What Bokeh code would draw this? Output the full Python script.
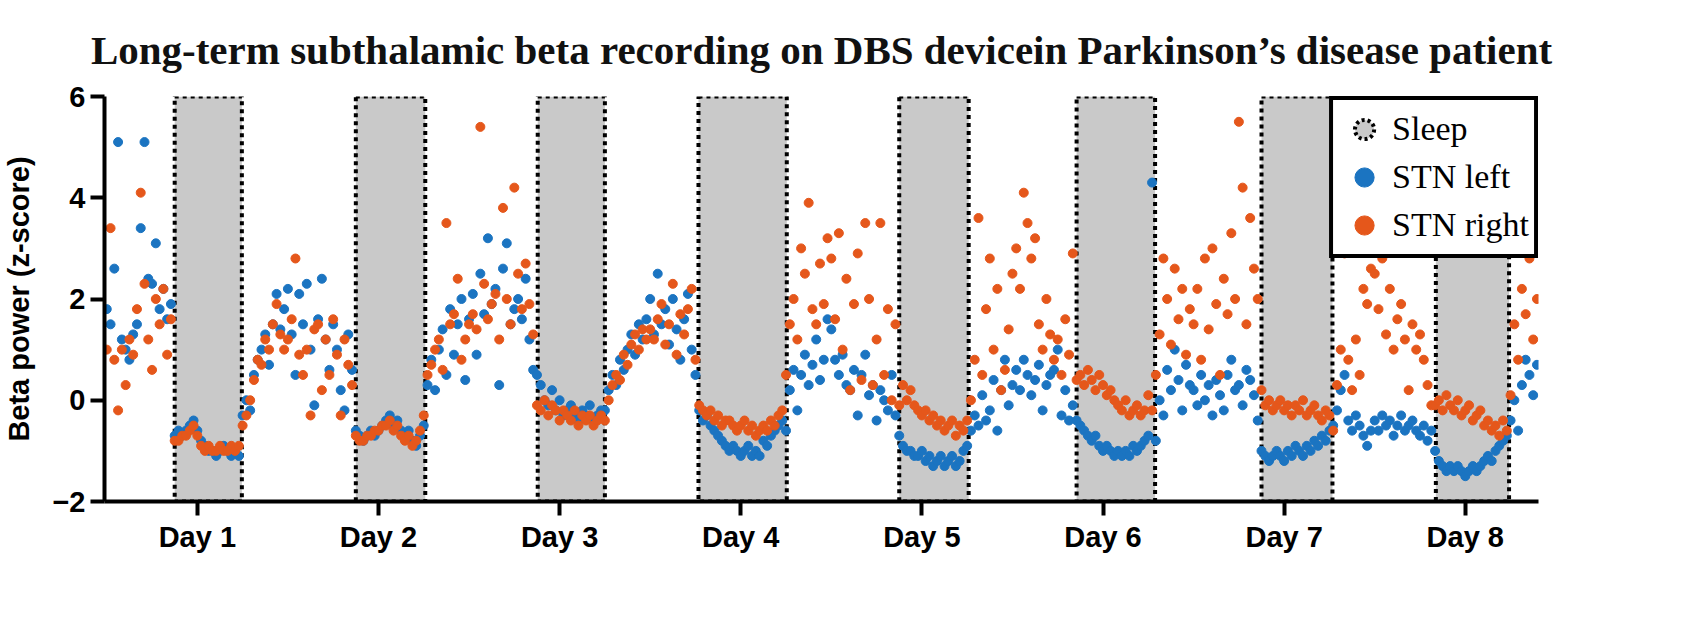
from bokeh.plotting import figure
from bokeh.models import FixedTicker, Legend, LegendItem
from bokeh.embed import file_html
from bokeh.resources import INLINE

start_hour = 12.0
step_hour = 0.5
day_ticks = [24, 48, 72, 96, 120, 144, 168, 192]
day_labels = ["Day 1", "Day 2", "Day 3", "Day 4", "Day 5", "Day 6", "Day 7", "Day 8"]
sleep_start = [21.0, 45.0, 69.1, 90.4, 117.0, 140.5, 165.0, 188.1]
sleep_end = [29.9, 54.2, 78.0, 102.1, 126.2, 150.9, 174.4, 197.8]

stn_left = [
 1.8,1.5,2.6,5.1,1.2,1.0,0.8,1.3,1.5,3.4,5.1,2.4,2.3,3.1,1.8,2.2,1.6,1.9,
 -0.7,-0.6,-0.7,-0.6,-0.5,-0.4,-0.6,-0.8,-0.9,-1.0,-1.0,-1.1,-1.0,-0.9,-1.0,-1.1,-1.0,-1.1,
 -0.3,0.0,-0.2,0.5,0.8,1.0,1.3,0.7,1.5,2.1,1.4,1.8,
 2.2,1.3,0.5,2.1,1.5,2.3,1.0,-0.1,1.6,2.4,1.2,0.6,1.5,1.0,0.2,-0.2,1.3,0.6,
 -0.6,-0.7,-0.8,-0.7,-0.6,-0.7,-0.6,-0.5,-0.4,-0.3,-0.5,-0.4,-0.6,-0.7,-0.6,-0.8,-0.9,-0.7,
 -0.5,0.3,0.8,0.2,1.0,1.4,0.5,1.8,0.9,1.5,2.0,0.4,
 1.6,2.1,0.9,2.5,1.7,3.2,1.9,2.2,0.3,2.6,3.1,1.5,1.8,2.0,1.6,2.4,1.2,0.6,
 0.5,0.3,0.0,-0.1,0.2,-0.2,0.0,-0.3,-0.2,-0.1,-0.3,-0.4,-0.2,-0.3,-0.1,-0.4,-0.3,-0.2,
 -0.2,0.2,0.5,0.3,0.8,0.6,1.0,1.3,0.9,1.5,1.2,1.6,
 2.0,1.3,2.5,1.5,1.8,1.1,2.0,1.4,0.8,1.6,2.1,1.0,0.5,
 -0.2,-0.4,-0.3,-0.5,-0.6,-0.7,-0.8,-0.9,-1.0,-0.9,-1.0,-1.1,-1.0,-0.9,-1.1,-1.0,-1.1,-0.8,-0.9,-0.7,-0.6,-0.5,-0.4,
 -0.6,0.2,0.6,-0.2,0.5,0.9,0.3,0.7,1.2,0.4,0.8,1.6,
 1.4,0.8,0.5,0.9,0.3,0.2,0.6,-0.3,0.5,0.9,0.1,0.3,-0.4,0.2,0.0,-0.2,0.5,-0.3,
 -0.7,-0.9,-1.0,-1.0,-1.1,-1.1,-1.0,-1.2,-1.1,-1.3,-1.2,-1.1,-1.3,-1.2,-1.1,-1.3,-1.2,-1.0,
 -0.9,-0.6,-0.3,-0.5,0.1,-0.4,-0.2,0.4,-0.6,0.2,0.8,-0.1,
 0.3,0.6,0.2,0.8,0.5,0.1,0.4,0.7,-0.2,0.3,0.5,0.6,1.0,-0.3,0.2,-0.4,-0.1,
 -0.4,-0.5,-0.6,-0.7,-0.8,-0.7,-0.9,-1.0,-0.9,-1.0,-1.1,-1.0,-1.1,-1.0,-1.1,-0.9,-1.0,-0.9,-0.8,-0.7,4.3,
 -0.8,0.0,-0.3,0.6,0.2,1.0,0.4,-0.2,0.7,0.3,
 0.2,-0.1,0.5,0.0,0.3,-0.3,0.4,0.1,-0.2,0.5,0.8,0.2,0.3,-0.1,0.6,0.4,0.1,-0.4,
 -1.0,-1.1,-1.2,-1.1,-1.0,-1.1,-1.2,-1.0,-1.1,-0.9,-1.0,-1.1,-0.9,-1.0,-0.8,-0.9,-0.7,-0.8,-0.6,
 -0.5,-0.2,0.2,0.5,-0.4,-0.6,-0.3,-0.5,-0.7,-0.9,-0.6,
 -0.4,-0.6,-0.3,-0.5,-0.4,-0.7,-0.5,-0.3,-0.6,-0.5,-0.4,-0.6,-0.7,-0.5,-0.8,-0.6,
 -1.0,-1.2,-1.3,-1.4,-1.3,-1.4,-1.3,-1.4,-1.5,-1.4,-1.3,-1.4,-1.3,-1.2,-1.1,-1.2,-1.0,-0.9,-0.8,-0.7,
 -0.4,0.0,-0.6,0.3,0.8,0.5,0.1,0.7,
]

stn_right = [
 1.0,3.4,0.8,-0.2,1.0,0.3,1.2,0.9,1.8,4.1,2.3,1.2,0.6,2.0,1.5,2.2,0.9,1.6,
 -0.8,-0.8,-0.7,-0.7,-0.6,-0.5,-0.7,-0.9,-1.0,-0.9,-1.0,-1.0,-0.9,-1.0,-1.0,-0.9,-1.0,-0.9,
 -0.5,-0.3,0.0,0.4,0.8,0.7,1.2,1.0,1.5,1.9,1.3,1.0,
 1.2,1.6,2.8,0.9,0.5,1.0,-0.3,1.4,1.5,0.2,1.2,0.5,1.6,0.9,-0.3,1.2,0.7,0.3,
 -0.7,-0.8,-0.8,-0.7,-0.7,-0.6,-0.6,-0.5,-0.5,-0.4,-0.6,-0.5,-0.7,-0.8,-0.7,-0.9,-0.8,-0.6,
 -0.3,0.5,0.7,1.0,1.2,0.6,3.5,1.5,1.7,2.4,0.8,1.2,
 1.5,1.7,1.4,5.4,2.3,1.6,1.9,2.1,1.2,3.8,2.0,1.5,4.2,2.5,1.8,2.7,1.9,1.3,
 -0.1,-0.2,0.0,-0.3,-0.1,-0.2,-0.4,-0.2,-0.3,-0.4,-0.2,-0.5,-0.3,-0.4,-0.3,-0.5,-0.4,-0.3,
 -0.4,0.0,0.3,0.5,0.4,0.9,0.7,1.1,1.3,1.0,1.4,1.2,
 1.4,1.2,1.6,1.9,1.1,1.5,2.3,0.9,1.7,1.3,1.8,2.2,0.8,
 -0.1,-0.2,-0.3,-0.2,-0.4,-0.3,-0.5,-0.4,-0.4,-0.5,-0.6,-0.5,-0.4,-0.6,-0.5,-0.7,-0.6,-0.5,-0.6,-0.4,-0.5,-0.3,-0.2,
 0.5,1.5,2.0,1.2,3.0,2.5,3.9,1.8,1.5,2.7,1.9,3.2,
 2.8,1.6,3.3,1.0,2.4,0.2,1.9,2.9,0.4,3.5,2.0,0.3,1.2,3.5,0.5,1.8,0.0,1.5,
 -0.1,0.3,0.0,0.2,-0.1,-0.2,-0.3,-0.2,-0.4,-0.3,-0.5,-0.4,-0.6,-0.5,-0.4,-0.7,-0.5,-0.6,
 -0.4,0.0,0.8,3.6,0.5,1.8,2.8,1.0,2.2,0.2,0.6,1.4,
 2.5,3.0,2.2,4.1,3.5,2.8,3.2,1.5,1.0,2.0,1.3,0.8,1.2,0.5,1.6,0.9,2.9,
 0.4,0.5,0.3,0.6,0.4,0.2,0.5,0.3,0.1,0.2,0.0,-0.1,-0.2,0.0,-0.3,-0.2,-0.1,-0.3,-0.2,0.1,-0.2,
 0.5,1.3,2.8,2.0,1.1,2.6,1.6,2.2,0.9,1.8,
 1.5,2.2,0.8,2.8,1.4,3.0,1.9,0.5,2.4,1.7,3.3,2.0,5.5,4.2,1.5,3.6,2.6,2.0,
 0.2,-0.1,0.0,-0.2,-0.1,0.0,-0.2,-0.1,-0.3,-0.1,-0.2,0.0,-0.3,-0.2,-0.1,-0.3,-0.4,-0.2,-0.3,
 -0.6,0.3,1.0,2.9,0.8,0.2,1.2,0.5,2.2,1.9,2.6,
 2.5,1.8,2.8,1.3,2.2,1.0,1.6,1.9,1.2,0.2,1.5,1.0,1.3,0.8,0.3,-0.1,
 -0.1,0.0,-0.2,0.1,-0.1,-0.2,0.0,-0.3,-0.2,-0.1,-0.4,-0.3,-0.2,-0.5,-0.4,-0.6,-0.5,-0.7,-0.4,-0.6,
 0.1,1.5,0.8,2.2,1.7,2.8,1.2,2.0,
]

BLUE = "#1b74c1"
ORANGE = "#e5571b"

p = figure(width=1675, height=607, output_backend="svg", toolbar_location=None,
           x_range=(11.7, 201.7), y_range=(-2, 6),
           min_border_left=52, min_border_right=137, min_border_top=10, min_border_bottom=106)
p.title.text = "Long-term subthalamic beta recording on DBS devicein Parkinson\u2019s disease patient"
p.title.text_font = "Liberation Serif"
p.title.text_font_size = "41px"
p.title.text_font_style = "bold"
p.title.text_color = "#111111"
p.title.align = "center"
p.title.offset = 70
p.title.standoff = 48
p.outline_line_color = None
p.xgrid.visible = False
p.ygrid.visible = False

p.quad(left=sleep_start, right=sleep_end, bottom=-2, top=6,
       fill_color="#c9c9c9", line_color="black", line_width=4, line_dash="4 4")

def xs(vals):
    return [start_hour + step_hour * i for i in range(len(vals))]

p.scatter(xs(stn_left), stn_left, size=9, color=BLUE)
p.scatter(xs(stn_right), stn_right, size=9, color=ORANGE)

dummy = p.scatter([-100], [-100], size=26, fill_color="#c9c9c9", line_color="black",
                  line_width=4, line_dash="3 3")
dummy_b = p.scatter([-100], [-100], size=26, color=BLUE)
dummy_o = p.scatter([-100], [-100], size=26, color=ORANGE)

legend = Legend(items=[LegendItem(label="Sleep", renderers=[dummy]),
                       LegendItem(label="STN left", renderers=[dummy_b]),
                       LegendItem(label="STN right", renderers=[dummy_o])],
                location="top_right", label_text_font="Liberation Serif",
                label_text_font_size="34px", label_text_color="black",
                border_line_color="black", border_line_alpha=1,
                border_line_width=4, glyph_width=52, glyph_height=48,
                spacing=0, padding=5, margin=0, label_standoff=2,
                label_height=40, background_fill_alpha=1)
p.add_layout(legend)

p.xaxis.ticker = FixedTicker(ticks=day_ticks)
p.xaxis.major_label_overrides = {t: l for t, l in zip(day_ticks, day_labels)}
p.yaxis.ticker = FixedTicker(ticks=[-2, 0, 2, 4, 6])
for ax in (p.xaxis, p.yaxis):
    ax.axis_line_width = 4
    ax.major_tick_line_width = 4
    ax.major_tick_out = 14
    ax.major_tick_in = 0
    ax.minor_tick_line_color = None
    ax.major_label_text_font = "Liberation Sans"
    ax.major_label_text_font_style = "bold"
    ax.major_label_text_font_size = "29px"
    ax.major_label_text_color = "black"
    ax.axis_line_color = "black"
    ax.major_tick_line_color = "black"
p.yaxis.axis_label = "Beta power (z-score)"
p.yaxis.axis_label_text_font = "Liberation Sans"
p.yaxis.axis_label_text_font_style = "bold"
p.yaxis.axis_label_text_font_size = "29px"
p.yaxis.axis_label_text_color = "black"
p.yaxis.axis_label_standoff = 14

open("out.html", "w").write(file_html(p, INLINE))
